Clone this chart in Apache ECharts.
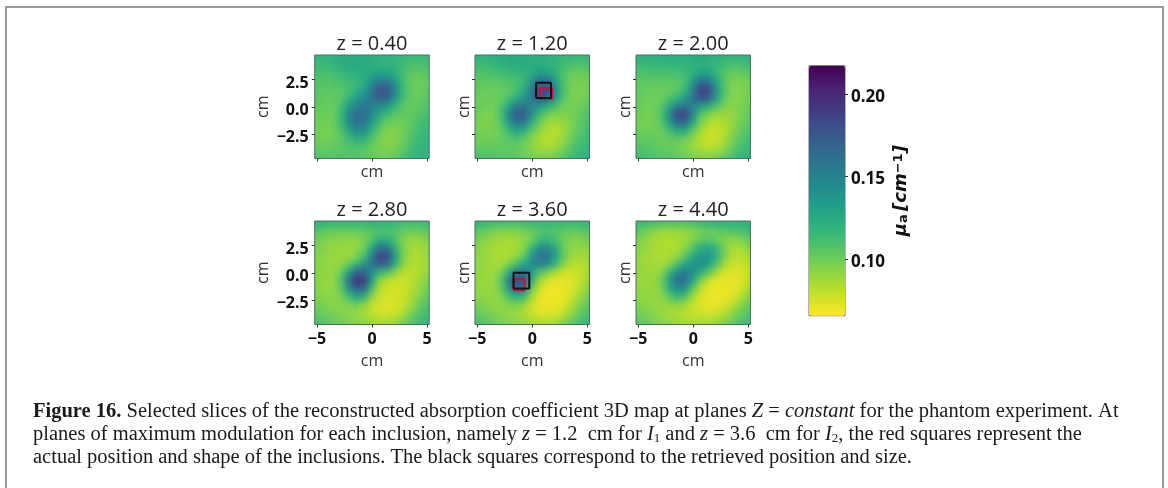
<!DOCTYPE html>
<html><head><meta charset="utf-8">
<style>
html,body{margin:0;padding:0;background:#fff;width:1168px;height:488px;overflow:hidden}
#clip,#base,#over{position:absolute;left:0;top:0;width:1168px;height:488px}
#frame{position:absolute;left:5px;top:6px;width:1155px;height:490px;border:2px solid #9a9a9a;box-sizing:content-box}
#base{filter:blur(3px)}
#over{filter:blur(0.4px)}
</style>
<script src="https://cdn.jsdelivr.net/npm/echarts@6/dist/echarts.min.js"></script>
</head><body>
<div id="frame"></div>
<div id="clip"><div id="base"></div></div>
<div id="over"></div>
<script>
// Sample positions of the slice cells (cm)
var xCells = ['-5.6','-4.9','-4.2','-3.5','-2.8','-2.1','-1.4','-0.7','0','0.7','1.4','2.1','2.8','3.5','4.2','4.9','5.6'];
var yCells = ['-5.25','-4.5','-3.75','-3','-2.25','-1.5','-0.75','0','0.75','1.5','2.25','3','3.75','4.5','5.25'];
var slices = ['z = 0.40','z = 1.20','z = 2.00','z = 2.80','z = 3.60','z = 4.40'];
var xTicks = [-5,0,5];
var yTicks = [-2.5,0,2.5];
var barTicks = [0.10,0.15,0.20];
var muMin = 0.0659, muMax = 0.2171;
// mu_a x 1000, rows from y = +5.25 down to y = -5.25
var sliceA = [
[120,120,120,121,123,124,124,124,122,120,119,118,117,116,116,116,117],
[118,118,118,120,123,125,125,124,122,120,119,118,116,115,114,114,115],
[114,114,115,118,122,125,126,125,124,122,120,118,114,110,109,110,112],
[110,110,110,112,115,118,121,123,127,132,132,124,112,105,103,105,109],
[108,108,107,108,110,113,117,124,140,157,157,136,114,103,100,102,106],
[107,106,105,105,107,111,120,134,156,180,178,148,118,103,101,103,106],
[106,105,103,103,107,118,133,146,158,172,168,140,114,103,102,105,108],
[105,103,102,102,112,134,152,158,150,144,135,118,106,103,104,108,111],
[103,102,100,101,116,145,163,162,145,126,113,106,103,104,107,111,113],
[102,100,98,100,114,142,160,158,136,112,101,99,100,104,110,114,116],
[101,99,97,99,109,128,145,142,120,103,96,95,98,105,112,116,118],
[102,100,98,100,104,114,123,120,107,98,94,95,100,108,115,118,119],
[104,103,102,103,105,108,110,108,102,97,95,97,103,111,117,119,120],
[108,107,107,107,108,108,107,105,102,99,99,102,108,115,119,120,120],
[112,111,110,110,110,110,109,107,105,103,103,106,112,118,120,121,121]];
var sliceB = [
[120,120,121,122,124,125,125,124,122,121,120,119,118,117,117,117,118],
[119,119,119,121,124,126,126,125,123,122,121,119,117,116,115,115,116],
[113,113,114,117,120,122,123,123,124,124,122,118,113,109,108,109,111],
[108,108,108,110,112,114,116,118,125,136,136,124,108,102,100,102,106],
[105,105,104,104,106,108,110,118,142,168,166,136,110,99,97,99,103],
[104,103,102,101,102,105,112,126,156,190,186,148,113,98,96,98,102],
[103,102,100,100,103,112,125,140,158,176,170,138,108,98,97,100,104],
[103,101,99,99,108,132,156,158,146,134,124,110,100,98,100,104,108],
[100,99,96,97,112,148,174,172,142,112,100,95,95,97,102,108,110],
[99,97,95,97,108,136,158,156,122,100,90,88,90,95,103,109,112],
[99,98,96,98,102,116,128,124,104,92,84,83,87,96,105,111,114],
[101,100,99,100,102,106,109,104,94,86,83,84,90,100,109,114,116],
[105,104,103,103,104,104,103,99,93,88,86,89,96,105,113,117,118],
[110,109,108,107,107,106,104,101,98,95,94,98,104,112,117,119,120],
[114,113,111,110,110,109,107,105,103,101,102,105,110,116,119,121,121]];
var sliceC = [
[122,122,122,122,123,124,124,124,124,124,123,122,121,120,120,120,120],
[120,120,120,121,122,123,123,123,123,124,123,121,119,118,118,118,119],
[114,114,115,116,117,117,118,118,120,122,121,117,112,110,110,112,114],
[108,108,108,110,110,110,110,113,122,134,132,120,106,102,102,104,108],
[105,105,104,104,104,105,105,112,137,163,160,130,108,97,96,99,104],
[104,104,102,101,101,102,107,119,153,190,186,143,110,96,95,98,103],
[103,103,100,100,102,110,120,136,160,178,172,135,106,95,95,98,102],
[102,102,99,99,108,130,155,158,148,132,123,110,97,93,96,100,104],
[100,100,98,99,112,146,186,186,146,106,94,90,89,91,96,102,106],
[100,99,97,98,108,134,166,166,126,97,86,82,84,90,98,104,108],
[102,101,100,100,102,113,126,124,104,88,80,78,82,92,101,108,111],
[105,104,103,102,101,103,104,100,92,83,78,78,85,96,106,112,114],
[109,108,107,105,103,102,99,95,90,85,82,84,91,101,110,115,116],
[113,112,110,108,107,105,102,99,96,93,92,95,101,109,115,118,119],
[116,115,113,111,110,108,106,103,101,100,100,103,108,114,118,120,120]];
var sliceD = [
[122,122,122,122,122,122,122,122,122,122,122,120,119,118,118,118,118],
[118,118,116,115,114,114,114,115,116,117,117,115,113,112,112,113,114],
[107,106,103,101,100,100,101,103,105,109,110,107,102,100,100,103,106],
[100,99,96,94,93,92,93,97,108,124,124,111,96,91,90,94,99],
[97,96,93,91,90,90,91,100,130,160,158,124,98,88,86,90,96],
[96,95,92,90,89,90,96,112,150,188,184,136,100,87,85,89,95],
[95,94,92,90,92,102,120,140,158,172,166,126,94,85,84,88,94],
[95,93,91,91,102,134,168,170,142,118,110,94,83,81,83,89,96],
[95,93,91,92,108,156,196,190,134,92,82,78,78,81,87,93,100],
[95,93,91,92,104,140,172,166,112,84,77,76,77,82,89,97,104],
[97,95,93,93,97,112,128,122,92,78,76,75,77,84,93,102,108],
[100,98,96,94,93,96,99,93,80,75,74,74,78,88,99,107,112],
[105,103,100,97,95,93,91,87,81,77,76,78,84,95,105,112,115],
[111,109,106,102,99,96,93,91,88,85,85,88,95,105,113,117,118],
[115,113,110,107,103,100,97,95,93,92,92,96,103,111,117,119,120]];
var sliceE = [
[121,121,121,120,119,119,119,119,120,120,120,119,118,118,119,120,120],
[117,116,114,112,111,110,110,111,113,114,115,114,113,113,114,115,116],
[106,104,100,97,95,94,95,98,102,107,109,107,104,102,103,106,108],
[100,97,93,89,87,86,88,92,100,113,118,112,101,95,94,98,102],
[96,93,90,87,85,85,87,95,119,143,147,127,103,93,90,92,98],
[95,92,89,87,85,86,92,107,138,160,158,134,106,91,87,89,95],
[94,92,89,87,88,97,113,132,146,152,144,118,95,84,82,85,92],
[93,91,89,88,98,128,158,160,132,108,97,85,78,76,78,84,92],
[93,91,89,90,106,152,186,180,122,88,76,71,71,73,79,87,95],
[93,91,90,90,102,138,162,154,100,78,71,69,70,73,81,91,99],
[95,93,91,91,96,110,122,115,86,72,69,69,70,76,87,97,104],
[99,97,94,92,92,94,96,90,77,71,70,70,73,82,94,103,109],
[104,102,99,96,93,91,89,85,79,74,73,74,79,90,101,109,113],
[110,108,105,101,98,95,92,90,87,84,83,85,91,101,110,115,117],
[114,112,109,105,102,99,96,94,92,90,90,93,99,108,115,118,119]];
var sliceF = [
[121,120,119,118,117,116,116,117,118,120,122,123,124,124,124,124,124],
[117,115,112,109,107,106,106,107,109,112,115,116,117,118,119,119,120],
[108,103,97,92,89,88,89,91,94,98,101,103,104,106,109,112,116],
[100,96,91,87,85,84,86,89,96,104,107,102,95,93,95,100,107],
[96,93,89,86,84,84,86,93,110,125,128,117,98,87,86,91,99],
[94,91,88,86,85,86,92,108,126,137,138,124,100,84,81,86,94],
[93,91,88,87,87,94,111,130,140,141,134,110,88,79,77,81,90],
[92,91,89,88,94,120,146,154,142,124,106,87,76,73,73,78,87],
[92,90,89,90,102,136,161,160,128,96,80,72,71,71,73,79,89],
[92,91,90,90,99,124,144,138,104,81,72,70,70,71,75,84,94],
[93,92,91,91,93,105,116,108,86,75,71,70,70,73,81,92,100],
[96,94,93,91,90,91,92,87,79,73,71,71,74,81,91,100,107],
[100,98,96,93,90,87,85,82,79,77,76,78,83,91,100,107,112],
[106,104,101,97,93,90,88,87,86,85,85,88,93,100,108,113,116],
[110,108,105,101,97,94,92,91,90,90,91,94,99,106,112,116,118]];
var allSlices = [sliceA,sliceB,sliceC,sliceD,sliceE,sliceF];
// Outlines of inclusions, cm: [x,y] corners
var redSquareI1 = [[0.7,0.7],[1.8,0.7],[1.8,1.7],[0.7,1.7],[0.7,0.7]];
var blackSquareI1 = [[0.35,0.8],[1.7,0.8],[1.7,2.2],[0.35,2.2],[0.35,0.8]];
var redSquareI2 = [[-1.7,-1.6],[-0.7,-1.6],[-0.7,-0.6],[-1.7,-0.6],[-1.7,-1.6]];
var blackSquareI2 = [[-1.7,-1.44],[-0.27,-1.44],[-0.27,0],[-1.7,0],[-1.7,-1.44]];
var viridisR = ['#fde725','#b5de2b','#6ece58','#35b779','#1f9e89','#26828e','#31688e','#3e4989','#482878','#440154'];

var panelLeft = [314.7,475,636], panelTop = [55,221], panelW = 114.5, panelH = 103.5;
var cellW = 7.7, cellH = 8.14;
var sans = 'Open Sans', serif = 'Liberation Serif';

// Blurred layer: the six heat maps
var bGrid=[],bX=[],bY=[],bSeries=[],clipPath='';
allSlices.forEach(function(s,i){
  var L=panelLeft[i%3], T=panelTop[i<3?0:1];
  var gw=cellW*xCells.length, gh=cellH*yCells.length;
  bGrid.push({left:L+panelW/2-gw/2,top:T+panelH/2-gh/2,width:gw,height:gh});
  bX.push({type:'category',gridIndex:i,data:xCells,show:false});
  bY.push({type:'category',gridIndex:i,data:yCells,show:false});
  var d=[];
  s.forEach(function(row,r){row.forEach(function(v,c){d.push([c,yCells.length-1-r,v/1000]);});});
  bSeries.push({type:'heatmap',xAxisIndex:i,yAxisIndex:i,data:d,animation:false,progressive:0});
  clipPath+='M'+L+' '+T+'h'+panelW+'v'+panelH+'h-'+panelW+'z';
});
document.getElementById('clip').style.clipPath="path('"+clipPath+"')";
var base=echarts.init(document.getElementById('base'),null,{renderer:'canvas'});
base.setOption({animation:false,grid:bGrid,xAxis:bX,yAxis:bY,series:bSeries,
  visualMap:{show:false,type:'continuous',min:muMin,max:muMax,dimension:2,inRange:{color:viridisR}}});

// Sharp layer: axes, titles, squares, colour bar, caption
var oGrid=[],oX=[],oY=[],oTitle=[],oSeries=[];
slices.forEach(function(t,i){
  var col=i%3,row=i<3?0:1,L=panelLeft[col],T=panelTop[row];
  oGrid.push({left:L,top:T,width:panelW,height:panelH,show:true,borderColor:'#4f6f60',borderWidth:1,backgroundColor:'transparent'});
  oX.push({type:'value',gridIndex:i,min:-5.2,max:5.2,position:'bottom',splitLine:{show:false},
    axisLine:{show:false,onZero:false},axisTick:{show:true,length:3,lineStyle:{color:'#333'},customValues:xTicks},
    axisLabel:{show:row===1,margin:7,customValues:xTicks,formatter:function(v){return String(v).replace('-','\u2212');},fontFamily:sans,fontWeight:'bold',fontSize:16,color:'#111',hideOverlap:false,showMinLabel:true,showMaxLabel:true},
    name:'cm',nameLocation:'middle',nameGap:row===0?6:29,nameTextStyle:{fontFamily:sans,fontSize:16,color:'#333',verticalAlign:'top'}});
  oY.push({type:'value',gridIndex:i,min:-4.75,max:4.75,position:'left',splitLine:{show:false},
    axisLine:{show:false,onZero:false},axisTick:{show:true,length:3,lineStyle:{color:'#333'},customValues:yTicks},
    axisLabel:{show:col===0,margin:6,verticalAlign:'top',lineHeight:7,customValues:yTicks,formatter:function(v){return v.toFixed(1).replace('-','\u2212');},fontFamily:sans,fontWeight:'bold',fontSize:16,color:'#111'},
    name:'cm',nameLocation:'middle',nameGap:col===0?43:3,nameRotate:90,nameTextStyle:{fontFamily:sans,fontSize:16,color:'#333'}});
  oTitle.push({text:t,left:L+panelW/2,top:T-21,textAlign:'center',padding:0,textStyle:{fontFamily:sans,fontWeight:'normal',fontSize:20,color:'#222'}});
});
function square(panel,pts,color){
  oSeries.push({type:'line',xAxisIndex:panel,yAxisIndex:panel,data:pts,symbol:'none',silent:true,clip:false,animation:false,
    lineStyle:{color:color,width:2}});
}
square(1,redSquareI1,'#cf1030'); square(1,blackSquareI1,'#10101c');
square(4,redSquareI2,'#d0102c'); square(4,blackSquareI2,'#10101c');

// Colour bar axis (grid index 6)
oGrid.push({left:809,top:65.7,width:36,height:250,show:true,borderColor:'#666',borderWidth:1,backgroundColor:'transparent'});
oX.push({type:'value',gridIndex:6,min:0,max:1,show:false});
oY.push({type:'value',gridIndex:6,position:'right',min:muMin,max:muMax,splitLine:{show:false},axisLine:{show:false,onZero:false},
  axisTick:{show:true,length:3,lineStyle:{color:'#333'},customValues:barTicks},
  axisLabel:{margin:6,verticalAlign:'top',lineHeight:6,customValues:barTicks,formatter:function(v){return v.toFixed(2);},fontFamily:sans,fontWeight:'bold',fontSize:17,color:'#111'},
  name:'{m|\u03bc}{a|a} {m|[cm}{s|\u22121}{m|]}',nameLocation:'middle',nameGap:47,nameRotate:90,
  nameTextStyle:{rich:{
    m:{fontFamily:'DejaVu Sans',fontWeight:'bold',fontStyle:'italic',fontSize:18,color:'#111'},
    a:{fontFamily:'DejaVu Sans',fontWeight:'bold',fontSize:13,color:'#111',verticalAlign:'bottom'},
    s:{fontFamily:'DejaVu Sans',fontWeight:'bold',fontSize:13,color:'#111',verticalAlign:'top'}}}});

var capSize=20.5;
var cap={
  b:{fontFamily:serif,fontWeight:'bold',fontSize:capSize,fill:'#1a1a1a'},
  i:{fontFamily:serif,fontStyle:'italic',fontSize:capSize,fill:'#1a1a1a'},
  u:{fontFamily:serif,fontSize:13,fill:'#1a1a1a',verticalAlign:'bottom'}
};
function captionLine(txt,y){
  return {type:'text',left:33,top:y,silent:true,style:{text:txt,fontFamily:serif,fontSize:capSize,fill:'#1a1a1a',rich:cap}};
}
var over=echarts.init(document.getElementById('over'),null,{renderer:'canvas'});
over.setOption({animation:false,backgroundColor:'transparent',grid:oGrid,xAxis:oX,yAxis:oY,title:oTitle,series:oSeries,
  visualMap:{type:'continuous',seriesIndex:[],min:muMin,max:muMax,calculable:false,show:true,left:809,top:65.7,itemWidth:36,itemHeight:250,padding:0,text:null,inRange:{color:viridisR},hoverLink:false},
  graphic:[
    captionLine('{b|Figure 16.} Selected slices of the reconstructed absorption coefficient 3D map at planes {i|Z} = {i|constant} for the phantom experiment. At',401),
    captionLine('planes of maximum modulation for each inclusion, namely {i|z} = 1.2  cm for {i|I}{u|1} and {i|z} = 3.6  cm for {i|I}{u|2}, the red squares represent the',424),
    captionLine('actual position and shape of the inclusions. The black squares correspond to the retrieved position and size.',447)
  ]});
</script>
</body></html>
